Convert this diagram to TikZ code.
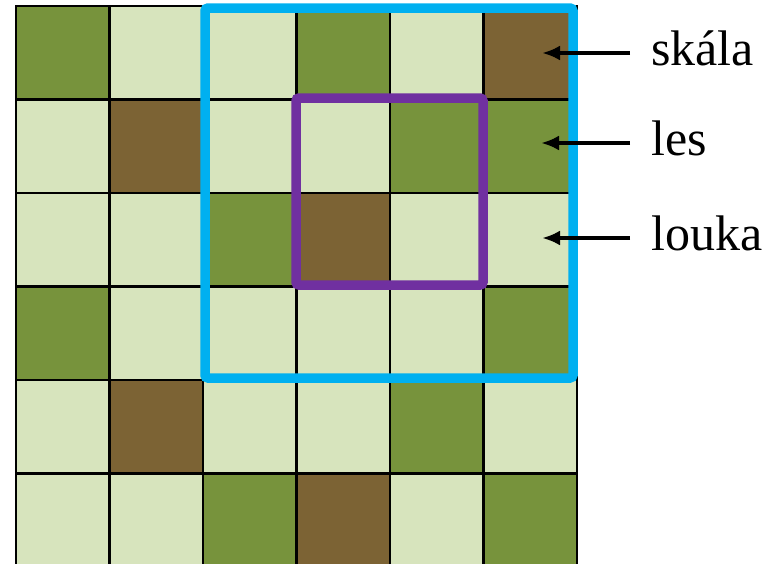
\documentclass[tikz,border=0pt]{standalone}
\usepackage{fontspec}
\setmainfont{Liberation Serif}
\usepackage{tikz}
\usetikzlibrary{arrows.meta}
\definecolor{cellg}{HTML}{77933C}
\definecolor{celll}{HTML}{D7E4BD}
\definecolor{cellb}{HTML}{7C6334}
\definecolor{zoneblue}{HTML}{00B0F0}
\definecolor{zonepurple}{HTML}{7030A0}

\begin{document}
\begin{tikzpicture}[x=1pt, y=-1pt,
  cell/.style={draw=black, line width=2.5pt},
  zone/.style={line width=9.5pt, rounded corners=3pt},
  tag/.style={anchor=west, inner xsep=21pt, inner ysep=0pt, text height=35pt, text depth=10pt, font=\fontsize{50}{60}\selectfont},
  pointer/.style={-{Latex[length=18pt, width=15pt]}, line width=4.5pt}
]
  \useasboundingbox (0,0) rectangle (776,563);
  \begin{scope}
    \clip (0,0) rectangle (776,563);
    % terrain grid, row by row
    \foreach \row [count=\j from 0] in {{g,l,l,g,l,b},{l,b,l,l,g,g},{l,l,g,b,l,l},{g,l,l,l,l,g},{l,b,l,l,g,l},{l,l,g,b,l,g}}
      \foreach \c [count=\i from 0] in \row
        \draw[cell, fill=cell\c] (16+93.5*\i, 6+93.5*\j) rectangle ++(93.5,93.5);
  \end{scope}

  % windows
  \draw[zone, draw=zoneblue] (205,8) rectangle (573,378);
  \draw[zone, draw=zonepurple] (296,98) rectangle (483,285);

  % legend
  \node[tag] (skala) at (630,53) {skála};
  \node[tag] (les) at (630,143) {les};
  \node[tag] (louka) at (630,238) {louka};
  \coordinate (skalaT) at (542,53);
  \coordinate (lesT) at (541,143);
  \coordinate (loukaT) at (542,238);

  \draw[pointer] (skala.west) -- (skalaT);
  \draw[pointer] (les.west) -- (lesT);
  \draw[pointer] (louka.west) -- (loukaT);
\end{tikzpicture}
\end{document}
